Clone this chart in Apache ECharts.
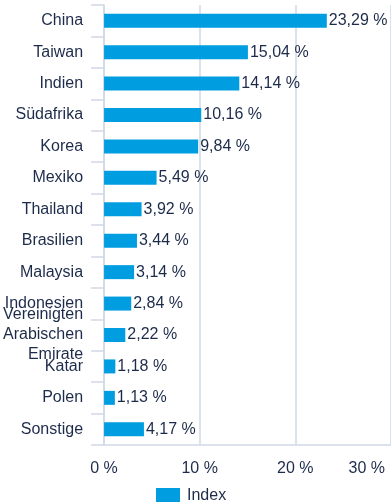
<!DOCTYPE html>
<html>
<head>
<meta charset="utf-8">
<style>
  html, body { margin: 0; padding: 0; background: #ffffff; }
  #chart { width: 391px; height: 502px; }
</style>
<script src="https://cdn.jsdelivr.net/npm/echarts@6/dist/echarts.min.js"></script>
</head>
<body>
<div id="chart"></div>
<script>
// Länderallokation des Index (Anteile in %)
const countries = [
  'China', 'Taiwan', 'Indien', 'Südafrika', 'Korea', 'Mexiko', 'Thailand',
  'Brasilien', 'Malaysia', 'Indonesien', 'Vereinigten\nArabischen\nEmirate',
  'Katar', 'Polen', 'Sonstige'
];
const indexWeights = [23.29, 15.04, 14.14, 10.16, 9.84, 5.49, 3.92, 3.44, 3.14, 2.84, 2.22, 1.18, 1.13, 4.17];
const xTicks = [0, 10, 20, 30];
const seriesName = 'Index';

const textColor = '#1d2b4a';
const lineColor = '#cfd9e6';
const barColor = '#009ee0';
const font = '"Liberation Sans", Arial, sans-serif';

const fmtPct = v => v.toFixed(v % 1 === 0 ? 0 : 2).replace('.', ',') + ' %';

const chart = echarts.init(document.getElementById('chart'), null, { renderer: 'canvas' });
chart.setOption({
  animation: false,
  textStyle: { fontFamily: font },
  grid: { left: 104, right: 0, top: 5, bottom: 57, containLabel: false },
  legend: {
    data: [seriesName],
    left: 151,
    top: 483,
    itemWidth: 24,
    itemHeight: 16,
    itemGap: 10,
    icon: 'rect',
    textStyle: { color: textColor, fontSize: 16, fontFamily: font, padding: [0, 0, 0, 2] }
  },
  xAxis: {
    type: 'value',
    min: xTicks[0],
    max: xTicks[xTicks.length - 1],
    interval: xTicks[1] - xTicks[0],
    axisLine: { show: true, lineStyle: { color: lineColor, width: 1.5 } },
    axisTick: { show: false },
    splitLine: { show: true, lineStyle: { color: lineColor, width: 1.5 } },
    axisLabel: {
      color: textColor,
      fontSize: 16,
      fontFamily: font,
      margin: 16,
      alignMaxLabel: 'right',
      formatter: v => v === xTicks[xTicks.length - 1] ? '{last|' + v + ' %}' : v + ' %',
      rich: {
        last: { color: textColor, fontSize: 16, fontFamily: font, padding: [0, 6, 0, 0] }
      }
    }
  },
  yAxis: {
    type: 'category',
    data: countries,
    inverse: true,
    axisLine: { show: true, lineStyle: { color: lineColor, width: 1.5 } },
    axisTick: { show: true, length: 13, lineStyle: { color: lineColor, width: 1.5 } },
    splitLine: { show: false },
    axisLabel: {
      color: textColor,
      fontSize: 16,
      fontFamily: font,
      margin: 21,
      lineHeight: 20,
      interval: 0
    }
  },
  series: [{
    name: seriesName,
    type: 'bar',
    data: indexWeights,
    barWidth: 14,
    itemStyle: { color: barColor },
    label: {
      show: true,
      position: 'right',
      distance: 2,
      color: textColor,
      fontSize: 16,
      fontFamily: font,
      formatter: p => fmtPct(p.value)
    }
  }]
});
</script>
</body>
</html>
